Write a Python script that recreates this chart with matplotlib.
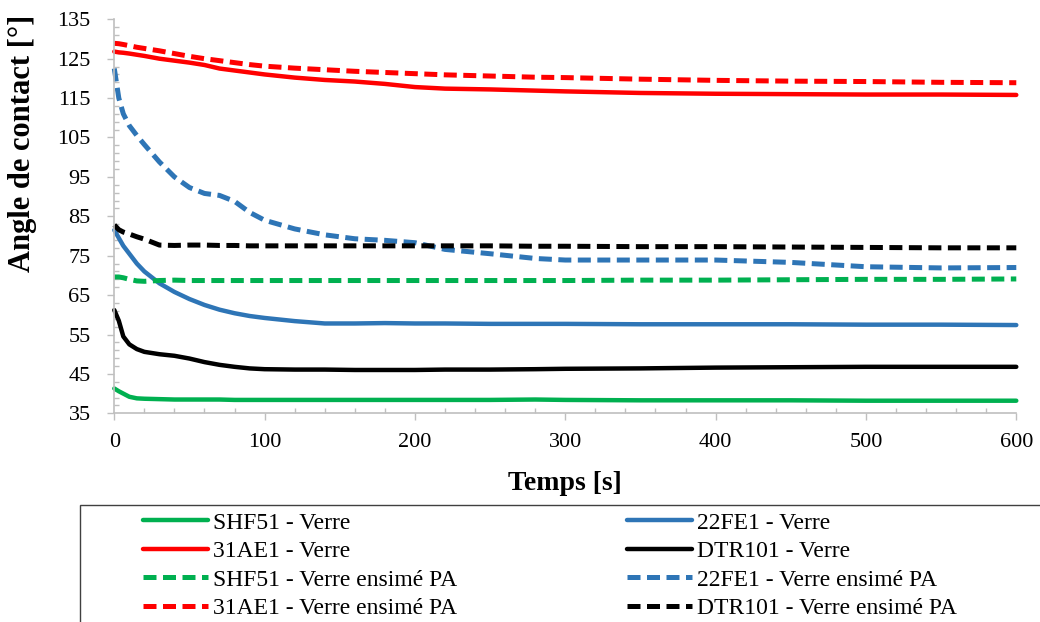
import matplotlib
matplotlib.use('Agg')
import matplotlib.pyplot as plt
import matplotlib.ticker as ticker
from matplotlib.patches import Rectangle
import numpy as np

plt.rcParams['font.family'] = ['Liberation Serif', 'DejaVu Serif']

# temps [s]
temps = [0, 3, 6, 10, 15, 20, 30, 40, 50, 60, 70, 80, 90, 100, 120, 140, 160,
         180, 200, 220, 250, 280, 300, 350, 400, 450, 500, 550, 600]

# angle de contact [deg] - verre
shf51_verre = [41.3, 40.6, 40.0, 39.2, 38.8, 38.7, 38.6, 38.5, 38.5, 38.5, 38.5, 38.4, 38.4, 38.4, 38.4,
               38.4, 38.4, 38.4, 38.4, 38.4, 38.4, 38.5, 38.4, 38.3, 38.3, 38.3, 38.2, 38.2, 38.2]
fe22_verre = [81.5, 79.5, 77.5, 75.5, 73.0, 71.0, 68.0, 65.8, 64.0, 62.5, 61.3, 60.4, 59.7, 59.2, 58.4,
              57.8, 57.8, 57.9, 57.8, 57.8, 57.7, 57.7, 57.7, 57.6, 57.6, 57.6, 57.5, 57.5, 57.4]
ae31_verre = [126.8, 126.6, 126.5, 126.3, 126.0, 125.7, 125.0, 124.5, 124.0, 123.4, 122.5, 122.0, 121.5,
              121.0, 120.2, 119.6, 119.2, 118.6, 117.8, 117.4, 117.2, 116.9, 116.7, 116.3, 116.1, 116.0,
              115.9, 115.9, 115.8]
dtr101_verre = [61.2, 58.5, 54.5, 52.5, 51.3, 50.6, 50.0, 49.6, 48.9, 48.0, 47.3, 46.8, 46.4, 46.2, 46.1,
                46.1, 46.0, 46.0, 46.0, 46.1, 46.1, 46.2, 46.3, 46.4, 46.6, 46.7, 46.8, 46.8, 46.8]

# angle de contact [deg] - verre ensime PA
shf51_pa = [69.6, 69.6, 69.4, 69.0, 68.6, 68.5, 68.7, 68.8, 68.7, 68.7, 68.7, 68.7, 68.7, 68.7, 68.7,
            68.7, 68.7, 68.7, 68.7, 68.7, 68.7, 68.7, 68.7, 68.8, 68.8, 68.9, 69.0, 69.0, 69.1]
fe22_pa = [122.5, 115.0, 111.0, 108.0, 105.5, 103.2, 98.8, 95.0, 92.3, 90.8, 90.3, 88.8, 86.0, 84.0,
           81.8, 80.3, 79.3, 78.9, 78.3, 76.6, 75.5, 74.3, 73.9, 73.9, 73.9, 73.3, 72.2, 71.9, 72.0]
ae31_pa = [128.9, 128.8, 128.6, 128.3, 127.9, 127.6, 127.0, 126.3, 125.6, 125.0, 124.5, 124.0, 123.5,
           123.1, 122.6, 122.2, 121.8, 121.5, 121.2, 120.9, 120.6, 120.3, 120.2, 119.8, 119.5, 119.3,
           119.2, 119.0, 118.9]
dtr101_pa = [82.8, 81.6, 81.0, 80.5, 79.8, 79.2, 77.7, 77.6, 77.7, 77.7, 77.6, 77.6, 77.5, 77.5, 77.5,
             77.5, 77.5, 77.5, 77.5, 77.5, 77.5, 77.4, 77.4, 77.3, 77.3, 77.2, 77.1, 77.0, 77.0]

GREEN, BLUE, RED, BLACK = '#00B050', '#2E75B6', '#FF0000', '#000000'

series = [
    ('SHF51 - Verre', shf51_verre, GREEN, '-'),
    ('22FE1 - Verre', fe22_verre, BLUE, '-'),
    ('31AE1 - Verre', ae31_verre, RED, '-'),
    ('DTR101 - Verre', dtr101_verre, BLACK, '-'),
    ('SHF51 - Verre ensimé PA', shf51_pa, GREEN, '--'),
    ('22FE1 - Verre ensimé PA', fe22_pa, BLUE, '--'),
    ('31AE1 - Verre ensimé PA', ae31_pa, RED, '--'),
    ('DTR101 - Verre ensimé PA', dtr101_pa, BLACK, '--'),
]

fig = plt.figure(figsize=(10.4, 6.22), dpi=100)
ax = fig.add_axes([0.1099, 0.3355, 0.8673, 0.6335])

handles = {}
for label, vals, col, ls in series:
    if ls == '-':
        ln, = ax.plot(temps, vals, color=col, lw=3.2, solid_capstyle='round', clip_on=False)
    else:
        ln, = ax.plot(temps, vals, color=col, lw=3.6, dashes=(2.6, 1.3), clip_on=False)
    handles[label] = ln

ax.set_xlim(0, 600)
ax.set_ylim(35, 135)
ax.xaxis.set_major_locator(ticker.MultipleLocator(100))
ax.xaxis.set_minor_locator(ticker.MultipleLocator(20))
ax.yaxis.set_major_locator(ticker.FixedLocator(np.arange(35, 136, 10)))
ax.yaxis.set_minor_locator(ticker.FixedLocator(np.arange(35, 136, 2)))

for s in ['top', 'right']:
    ax.spines[s].set_visible(False)
for s in ['left', 'bottom']:
    ax.spines[s].set_color('#BFBFBF')
    ax.spines[s].set_linewidth(1.2)

ax.tick_params(which='major', direction='out', length=5, width=1, color='#BFBFBF', labelsize=16)
ax.tick_params(which='minor', direction='in', length=3.5, width=1, color='#BFBFBF')
ax.tick_params(axis='y', which='major', pad=12)
ax.tick_params(axis='x', which='major', pad=9)

fig.text(23 / 1040, 1 - 143 / 622, 'Angle de contact [°]', rotation=90, ha='center', va='center',
         fontsize=22, fontweight='bold')
fig.text(565 / 1040, 1 - 484 / 622, 'Temps [s]', ha='center', va='center',
         fontsize=20, fontweight='bold')

# legend frame (cut by figure edges)
fig.patches.append(Rectangle((80 / 1040, -0.05), 1.0, (622 - 505) / 622 + 0.05,
                             transform=fig.transFigure, fill=False, edgecolor='#404040', lw=1.0))

col1 = ['SHF51 - Verre', '31AE1 - Verre', 'SHF51 - Verre ensimé PA', '31AE1 - Verre ensimé PA']
col2 = ['22FE1 - Verre', 'DTR101 - Verre', '22FE1 - Verre ensimé PA', 'DTR101 - Verre ensimé PA']
for names, x0 in [(col1, 143), (col2, 627)]:
    fig.legend([handles[n] for n in names], names, loc='upper left',
               bbox_to_anchor=(x0 / 1040, 1 - 512 / 622), bbox_transform=fig.transFigure,
               frameon=False, fontsize=17, handlelength=2.75, handletextpad=0.2,
               labelspacing=0.3, borderpad=0, borderaxespad=0)

fig.savefig('out.png', dpi=100)
